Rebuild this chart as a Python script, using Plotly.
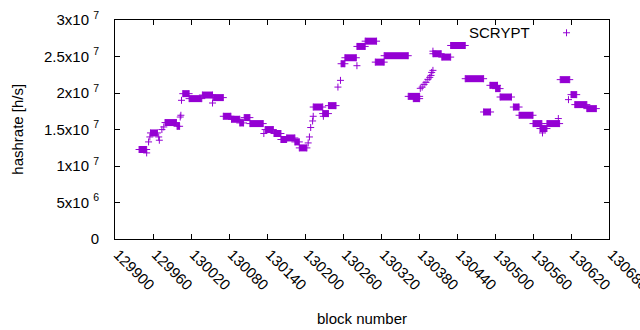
import plotly.graph_objects as go

# Runs of (nearly) constant hashrate: first block, last block, hashrate [h/s]
seg_start = [129938, 129956, 129979, 129998, 130007, 130017, 130038, 130055, 130071, 130084,
             130097, 130104, 130113, 130137, 130151, 130162, 130171, 130184, 130191, 130213,
             130228, 130237, 130257, 130263, 130282, 130295, 130311, 130325, 130363, 130371,
             130402, 130416, 130430, 130453, 130482, 130492, 130501, 130508, 130529, 130538,
             130560, 130571, 130582, 130603, 130620, 130626, 130645]
seg_end = [129950, 129967, 129997, 130002, 130017, 130037, 130054, 130071, 130083, 130097,
           130103, 130113, 130134, 130150, 130162, 130171, 130184, 130191, 130203, 130228,
           130237, 130249, 130263, 130281, 130295, 130313, 130325, 130363, 130381, 130381,
           130415, 130430, 130453, 130482, 130493, 130504, 130508, 130526, 130538, 130560,
           130574, 130582, 130602, 130618, 130629, 130645, 130660]
seg_value = [12.26e6, 14.53e6, 15.95e6, 15.44e6, 19.91e6, 19.23e6, 19.72e6, 19.37e6, 16.81e6, 16.40e6,
             15.90e6, 16.63e6, 15.81e6, 14.99e6, 14.45e6, 13.63e6, 13.84e6, 13.30e6, 12.48e6, 18.08e6,
             17.18e6, 18.27e6, 24.01e6, 24.83e6, 26.38e6, 27.10e6, 24.23e6, 25.11e6, 19.54e6, 19.23e6,
             25.38e6, 24.92e6, 26.51e6, 21.96e6, 17.40e6, 21.05e6, 20.60e6, 19.45e6, 18.08e6, 16.95e6,
             15.81e6, 15.13e6, 15.81e6, 21.83e6, 19.78e6, 18.41e6, 17.86e6]

# Individual blocks off the runs
pt_block = [129950, 129953, 129955, 129969, 129970, 129974, 129977, 130003, 130004, 130005,
            130054, 130135, 130205, 130207, 130209, 130212, 130213, 130229, 130252, 130256,
            130282, 130382, 130385, 130388, 130391, 130394, 130397, 130399, 130400, 130402,
            130402, 130575, 130600, 130616]
pt_value = [11.79e6, 13.30e6, 13.98e6, 13.98e6, 13.53e6, 14.99e6, 15.35e6, 16.71e6, 16.95e6, 19.00e6,
            18.63e6, 14.45e6, 13.16e6, 13.98e6, 15.27e6, 16.17e6, 16.81e6, 16.81e6, 20.81e6, 21.73e6,
            23.74e6, 20.64e6, 20.81e6, 21.18e6, 21.46e6, 21.87e6, 22.14e6, 22.41e6, 22.82e6, 23.10e6,
            25.73e6, 14.53e6, 16.50e6, 19.09e6]

y_tickvals = [0, 5e6, 1e7, 1.5e7, 2e7, 2.5e7, 3e7]
y_ticktext = ["0", "5x10 <sup>6</sup>", "1x10 <sup>7</sup>", "1.5x10 <sup>7</sup>",
              "2x10 <sup>7</sup>", "2.5x10 <sup>7</sup>", "3x10 <sup>7</sup>"]

COLOR = "#9400D3"
FONT = "Liberation Sans, Arial, sans-serif"
FS = 15

seg_x, seg_y = [], []
for s, e, v in zip(seg_start, seg_end, seg_value):
    seg_x += [s, e, None]
    seg_y += [v, v, None]

fig = go.Figure()
fig.add_trace(go.Scatter(
    x=seg_x, y=seg_y, mode="lines+markers",
    line=dict(color=COLOR, width=7),
    marker=dict(symbol="cross-thin", size=5, line=dict(color=COLOR, width=1)),
    showlegend=False, hoverinfo="skip"))
fig.add_trace(go.Scatter(
    x=pt_block, y=pt_value, mode="markers",
    marker=dict(symbol="cross-thin", size=5, color=COLOR, line=dict(color=COLOR, width=1)),
    showlegend=False))

# gnuplot-style key: text then symbol
fig.add_annotation(text="SCRYPT", xref="paper", yref="paper", x=0.8447, y=0.9444,
                   xanchor="right", yanchor="middle", showarrow=False,
                   font=dict(family=FONT, size=FS, color="#000"))
kx, ky = 0.914, 0.9417
fig.add_shape(type="line", xref="paper", yref="paper", xsizemode="pixel", xanchor=kx,
              x0=-3.5, x1=3.5, y0=ky, y1=ky, line=dict(color=COLOR, width=1))
fig.add_shape(type="line", xref="paper", yref="paper", ysizemode="pixel", yanchor=ky,
              y0=-3.5, y1=3.5, x0=kx, x1=kx, line=dict(color=COLOR, width=1))

fig.add_annotation(text="hashrate [h/s]", xref="paper", yref="paper", x=-0.198, y=0.5,
                   xanchor="center", yanchor="middle", textangle=-90, showarrow=False,
                   font=dict(family=FONT, size=FS, color="#000"))
fig.add_annotation(text="block number", xref="paper", yref="paper", x=0.5, y=-0.3645,
                   xanchor="center", yanchor="middle", showarrow=False,
                   font=dict(family=FONT, size=FS, color="#000"))

fig.update_layout(
    width=640, height=330,
    margin=dict(l=115, r=31, t=20, b=91, autoexpand=False),
    paper_bgcolor="white", plot_bgcolor="white",
    font=dict(family=FONT, size=FS, color="#000"),
    showlegend=False,
)
fig.update_xaxes(range=[129900, 130680], tick0=129900, dtick=60, tickformat="d",
                 tickangle=45, ticks="inside", ticklen=5, tickcolor="#000",
                 showline=True, linecolor="#000", linewidth=1, mirror="ticks",
                 showgrid=False, zeroline=False, ticklabelstandoff=0,
                 ticklabelshift=3, ticklabeloverflow="allow", automargin=False)
fig.update_yaxes(range=[0, 3e7], tickvals=y_tickvals, ticktext=y_ticktext,
                 ticks="inside", ticklen=5, tickcolor="#000",
                 showline=True, linecolor="#000", linewidth=1, mirror="ticks",
                 showgrid=False, zeroline=False, ticklabelstandoff=12, automargin=False)

fig.write_html("out.html", config={"displayModeBar": False},
               post_script="document.body.style.margin='0';document.body.style.overflow='hidden';")
